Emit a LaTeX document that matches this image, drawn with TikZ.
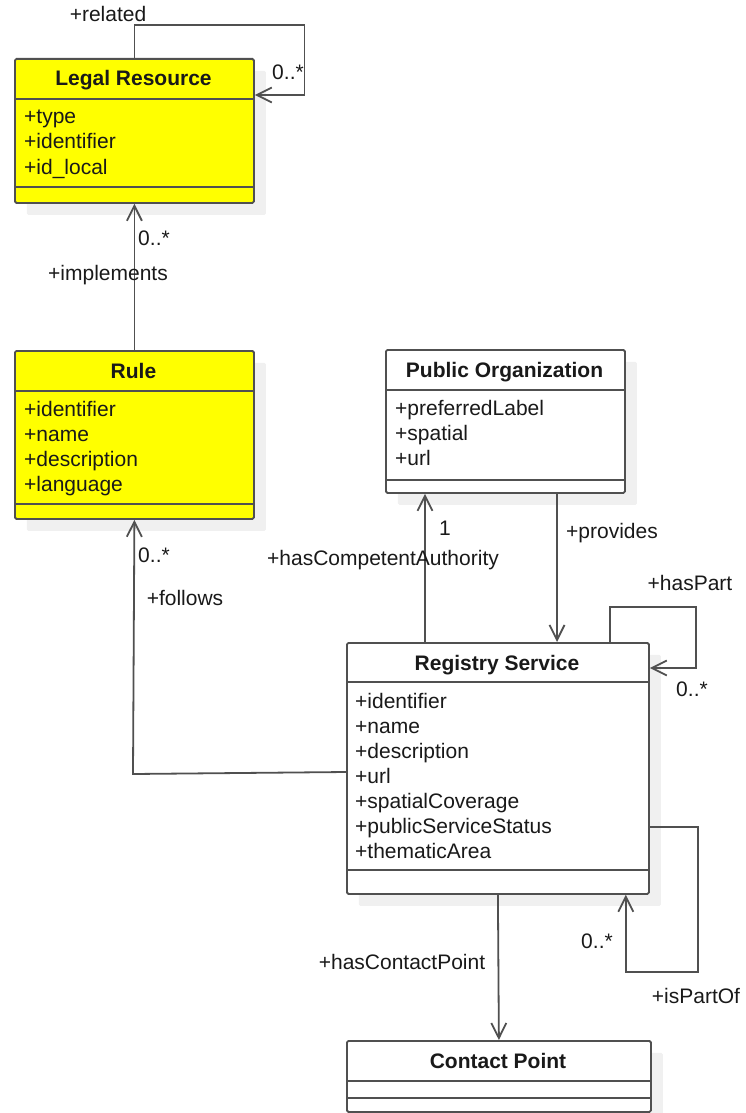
\documentclass[tikz,border=0pt]{standalone}
\usepackage{fontspec}
\setmainfont{Liberation Sans}
\usetikzlibrary{arrows.meta, calc, positioning, shadows}
\definecolor{umlyellow}{RGB}{255,255,0}
\definecolor{umlline}{RGB}{80,80,80}
\definecolor{umlshadow}{RGB}{240,240,240}
\definecolor{umltext}{RGB}{25,25,25}

\begin{document}
\begin{tikzpicture}[x=1pt, y=-1pt, >={Straight Barb[length=15pt, width=15pt]},
    classbox/.style={draw=umlline, fill=white, line width=1.8pt, rounded corners=1.5pt,
        anchor=north west, inner sep=0pt,
        drop shadow={shadow xshift=12pt, shadow yshift=-12pt, fill=umlshadow, opacity=1}},
    classtitle/.style={anchor=base, inner sep=0pt, text=umltext, font=\bfseries\fontsize{21}{25}\selectfont},
    attr/.style={anchor=base west, inner sep=0pt, text=umltext, font=\fontsize{21}{25}\selectfont},
    divider/.style={draw=umlline, line width=1.8pt},
    assoc/.style={draw=umlline, line width=1.8pt, ->},
    role/.style={anchor=base, inner sep=0pt, text=umltext, font=\fontsize{21}{25}\selectfont}]
    \useasboundingbox (0,0) rectangle (746,1113);

    % Legal Resource
    \node[classbox, fill=umlyellow, minimum width=239pt, minimum height=144pt] (legal) at (14,58) {};
    \node[classtitle] (legaltitle) at (133.5,86) {Legal Resource};
    \draw[divider] (14,99) -- (253,99);
    \draw[divider] (14,187) -- (253,187);
    \foreach \a [count=\i from 0] in {+type, +identifier, +id\_local}
        \node[attr] (legal-\i) at (24,124+25*\i) {\a};

    % Rule
    \node[classbox, fill=umlyellow, minimum width=239pt, minimum height=168pt] (rule) at (14,350) {};
    \node[classtitle] (ruletitle) at (133.5,378) {Rule};
    \draw[divider] (14,391) -- (253,391);
    \draw[divider] (14,504) -- (253,504);
    \foreach \a [count=\i from 0] in {+identifier, +name, +description, +language}
        \node[attr] (rule-\i) at (24,416+25*\i) {\a};

    % Public Organization
    \node[classbox, minimum width=239pt, minimum height=143pt] (puborg) at (385,349) {};
    \node[classtitle] (puborgtitle) at (504.5,377) {Public Organization};
    \draw[divider] (385,390) -- (624,390);
    \draw[divider] (385,480) -- (624,480);
    \foreach \a [count=\i from 0] in {+preferredLabel, +spatial, +url}
        \node[attr] (puborg-\i) at (395,415+25*\i) {\a};

    % Registry Service
    \node[classbox, minimum width=302pt, minimum height=251pt] (registry) at (346,642) {};
    \node[classtitle] (registrytitle) at (497,670) {Registry Service};
    \draw[divider] (346,682) -- (648,682);
    \draw[divider] (346,870) -- (648,870);
    \foreach \a [count=\i from 0] in {+identifier, +name, +description, +url, +spatialCoverage, +publicServiceStatus, +thematicArea}
        \node[attr] (registry-\i) at (355,708+25*\i) {\a};

    % Contact Point
    \node[classbox, minimum width=304pt, minimum height=71pt] (contact) at (346,1040) {};
    \node[classtitle] (contacttitle) at (498,1068) {Contact Point};
    \draw[divider] (346,1081) -- (650,1081);
    \draw[divider] (346,1098) -- (650,1098);

    % Associations
    \draw[assoc] (legal.north) -- ++(0,-33) -- ++(170,0) |- ([yshift=-37pt]legal.north east);
    \node[role] (relatedrole) at (108,22) {+related};
    \node[role] (relatedmult) at (288,80) {0..*};

    \draw[assoc] (rule.north) -- (legal.south);
    \node[role] (implmult) at (154,245) {0..*};
    \node[role] (implrole) at (108,280) {+implements};

    \draw[assoc] ([yshift=-130pt]registry.north west) -- ++(-213,2) -- (rule.south);
    \node[role] (followsmult) at (154,562) {0..*};
    \node[role] (followsrole) at (185,605) {+follows};

    \draw[assoc] ([xshift=79pt]registry.north west) -- ([xshift=79pt]registry.north west |- puborg.south);
    \node[role] (authmult) at (445,535) {1};
    \node[role] (authrole) at (383,565) {+hasCompetentAuthority};

    \draw[assoc] ([xshift=172pt]puborg.south west) -- ([xshift=172pt]puborg.south west |- registry.north);
    \node[role] (providesrole) at (612,538) {+provides};

    \draw[assoc] ([xshift=264pt]registry.north west) -- ++(0,-35) -- ++(86,0) |- ([yshift=-26pt]registry.north east);
    \node[role] (haspartrole) at (690,590) {+hasPart};
    \node[role] (haspartmult) at (692,696) {0..*};

    \draw[assoc] ([yshift=-185pt]registry.north east) -- ++(48,0) -- ++(0,145) -| ([xshift=-24pt]registry.south east);
    \node[role] (ispartofmult) at (597,948) {0..*};
    \node[role] (ispartofrole) at (696,1003) {+isPartOf};

    \draw[assoc] (registry.south) -- (contact.north);
    \node[role] (contactrole) at (402,969) {+hasContactPoint};
\end{tikzpicture}
\end{document}
